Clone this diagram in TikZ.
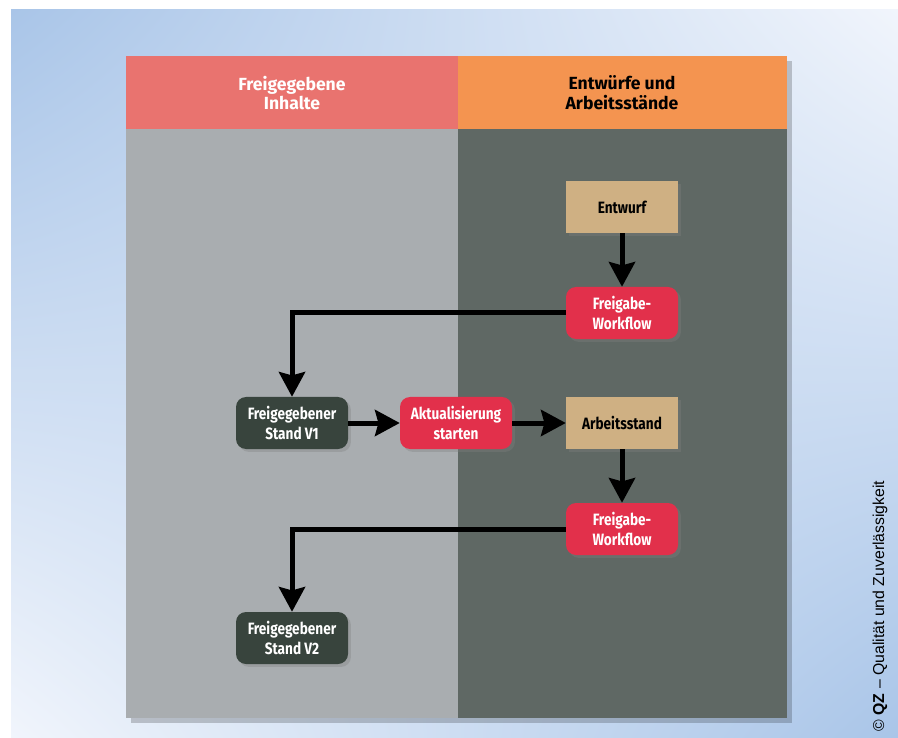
\documentclass[tikz,border=0pt]{standalone}
\usepackage{fontspec}
\setmainfont{Fira Sans}
\newfontfamily\condfont[FakeStretch=0.83]{Fira Sans}
\newfontfamily\notefont{Liberation Sans}
\usetikzlibrary{arrows.meta,shadows,shadings}

\definecolor{bgblue}{HTML}{A9C5E8}
\definecolor{bglight}{HTML}{F1F5FC}
\definecolor{headred}{HTML}{E9736F}
\definecolor{headorange}{HTML}{F49450}
\definecolor{laneleft}{HTML}{A9ADB0}
\definecolor{laneright}{HTML}{5F6864}
\definecolor{boxtan}{HTML}{CFB083}
\definecolor{boxred}{HTML}{E2304B}
\definecolor{boxdark}{HTML}{38443D}

\tikzset{
  boxbase/.style={minimum width=3.36cm, minimum height=1.56cm, inner sep=0pt, align=center,
    font=\condfont\bfseries\fontsize{14}{17}\selectfont,
    drop shadow={shadow xshift=2.5pt, shadow yshift=-2.5pt, opacity=0.35}},
  tanbox/.style={boxbase, fill=boxtan, text=black},
  redbox/.style={boxbase, fill=boxred, text=white, rounded corners=0.3cm},
  darkbox/.style={boxbase, fill=boxdark, text=white, rounded corners=0.3cm},
  headtext/.style={align=center, font=\bfseries\fontsize{15}{17}\selectfont},
  flow/.style={line width=0.15cm, -{Stealth[length=0.74cm, width=0.78cm, inset=0.1cm]}}
}

\begin{document}
\begin{tikzpicture}[x=0.03cm, y=-0.03cm]
\useasboundingbox (0,0) rectangle (898,738);
\fill[white] (0,0) rectangle (898,738);
\shade[upper left=bgblue, upper right=bglight, lower left=bglight, lower right=bgblue]
  (11,10) rectangle (898,738);

% lanes
\fill[black, opacity=0.2] (131,61) rectangle (792,723);
\fill[laneleft] (126,129) rectangle (458,718);
\fill[laneright] (458,129) rectangle (787,718);
\fill[headred] (126,56) rectangle (458,129);
\fill[headorange] (458,56) rectangle (787,129);
\node (lefthead) at (292,93)[headtext, text=white]{Freigegebene\\Inhalte};
\node (righthead) at (622,93)[headtext, text=black]{Entwürfe und\\Arbeitsstände};

% boxes
\node (entwurf) at (622,207)[tanbox]{Entwurf};
\node (freigabeA) at (622,313)[redbox]{Freigabe-\\Workflow};
\node (standA) at (292,423)[darkbox]{Freigegebener\\Stand V1};
\node (aktual) at (456,423)[redbox]{Aktualisierung\\starten};
\node (arbeit) at (622,423)[tanbox]{Arbeitsstand};
\node (freigabeB) at (622,529)[redbox]{Freigabe-\\Workflow};
\node (standB) at (292,638)[darkbox]{Freigegebener\\Stand V2};

% arrows
\draw[flow] (entwurf) -- (freigabeA);
\draw[flow] (freigabeA.west) -| (standA.north);
\draw[flow] (standA) -- (aktual);
\draw[flow] (aktual) -- (arbeit);
\draw[flow] (arbeit) -- (freigabeB);
\draw[flow] (freigabeB.west) -| (standB.north);

\node (copy) at (880,606)[rotate=90, font=\notefont\fontsize{13.5}{15}\selectfont]{© \textbf{QZ} – Qualität und Zuverlässigkeit};
\end{tikzpicture}
\end{document}
